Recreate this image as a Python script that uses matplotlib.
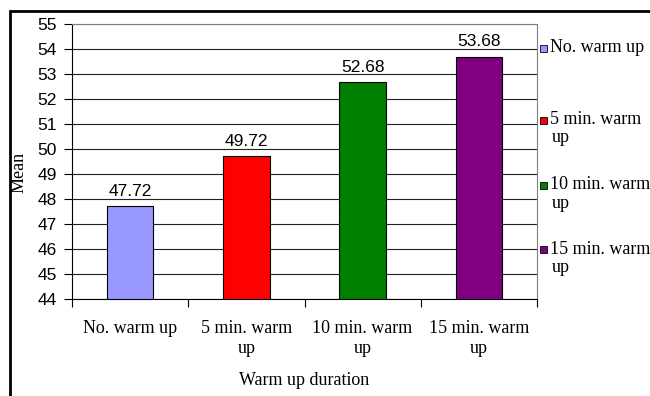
import matplotlib
matplotlib.use('Agg')
import matplotlib.pyplot as plt
import matplotlib.patches as patches
import numpy as np

# Data
groups = ['No. warm up', '5 min. warm\nup', '10 min. warm\nup', '15 min. warm\nup']
legend_labels = ['No. warm up', '5 min. warm', '10 min. warm', '15 min. warm']
means = [47.72, 49.72, 52.68, 53.68]
colors = ['#9999FF', '#FF0000', '#008000', '#800080']

serif = 'Liberation Serif'
sans = 'Liberation Sans'

fig = plt.figure(figsize=(6.5, 3.96), dpi=100)
ax = fig.add_axes([72/650, 1 - 299/396, 465/650, 275/396])

x = np.arange(len(means))
ax.bar(x, np.array(means) - 44, bottom=44, width=0.4, color=colors,
       edgecolor='black', linewidth=0.8, zorder=3)
for xi, m in zip(x, means):
    ax.text(xi, m + 0.3, f'{m:.2f}', ha='center', va='bottom',
            fontfamily=sans, fontsize=12.5, zorder=4)

ax.set_xlim(-0.5, 3.5)
ax.set_ylim(44, 55)
ax.set_yticks(range(44, 56))
ax.set_yticklabels([str(v) for v in range(44, 56)], fontfamily=sans, fontsize=12.5)
ax.yaxis.grid(True, color='#222222', linewidth=0.8, zorder=0)
ax.tick_params(axis='y', direction='out', length=6, width=0.8, pad=5)

ax.set_xticks(x)
ax.set_xticklabels(groups, fontfamily=serif, fontsize=13, linespacing=1.25)
ax.set_xticks(np.arange(-0.5, 4, 1), minor=True)
ax.tick_params(axis='x', which='major', length=0, pad=15)
ax.tick_params(axis='x', which='minor', direction='out', length=6, width=0.8)

ax.set_xlabel('Warm up duration', fontfamily=serif, fontsize=13, labelpad=11)
fig.text(19/650, 1 - 172/396, 'Mean', rotation=90, ha='center', va='center',
         fontfamily=serif, fontsize=13)

for side in ['top', 'right']:
    ax.spines[side].set_color('#808080')
    ax.spines[side].set_linewidth(0.8)
for side in ['left', 'bottom']:
    ax.spines[side].set_color('black')
    ax.spines[side].set_linewidth(0.8)

# legend drawn by hand, marker next to the first line of each entry
leg_y = [48, 120, 185, 249]
for lab, c, yy in zip(legend_labels, colors, leg_y):
    fy = 1 - yy / 396
    fig.patches.append(patches.Rectangle((540/650, fy - 3.5/396), 7/650, 7/396,
                                         transform=fig.transFigure, facecolor=c,
                                         edgecolor='black', linewidth=0.6))
    fig.text(550/650, fy, lab, ha='left', va='center', fontfamily=serif, fontsize=13)
    if lab != 'No. warm up':
        fig.text(552/650, fy - 18/396, 'up', ha='left', va='center',
                 fontfamily=serif, fontsize=13)

# outer chart frame
fig.patches.append(patches.Rectangle((9.5/650, -0.1), 1.2, 1.1 - 11.5/396,
                                     transform=fig.transFigure, fill=False,
                                     edgecolor='black', linewidth=2))

fig.savefig('out.png', dpi=100)
